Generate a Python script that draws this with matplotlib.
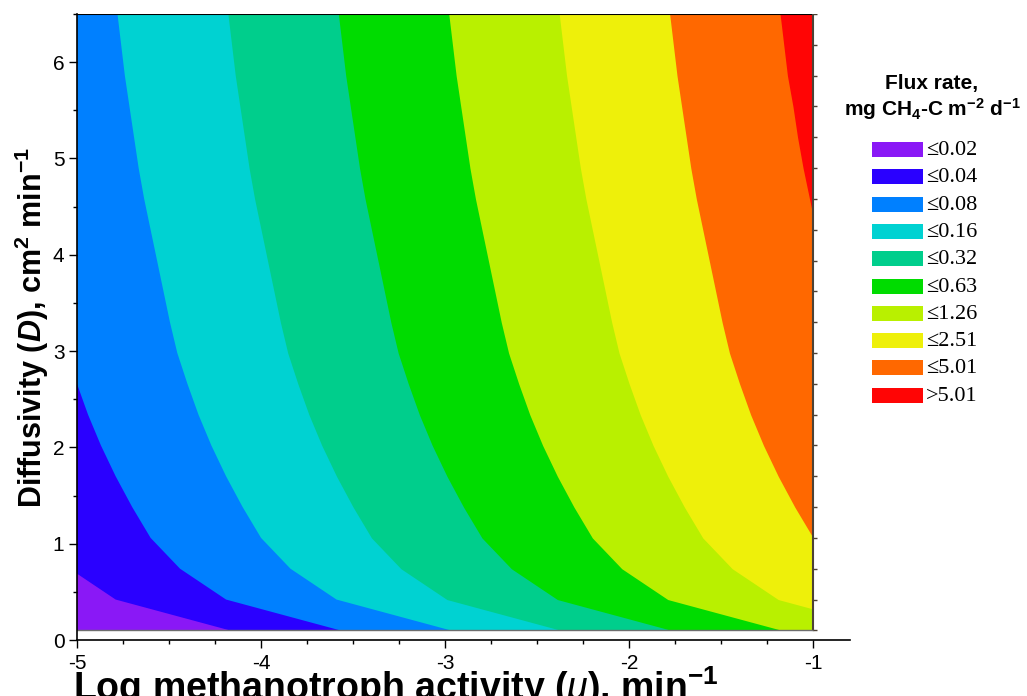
import numpy as np
import matplotlib.pyplot as plt
from matplotlib.patches import Rectangle
from matplotlib.ticker import FixedLocator

# diffusivity grid (cm2 min-1) where the contour boundaries were read
D = [0.10, 0.42, 0.74, 1.06, 1.38, 1.70, 2.02, 2.34, 2.66, 2.98, 3.30,
     3.62, 3.94, 4.26, 4.58, 4.90, 5.22, 5.54, 5.86, 6.18, 6.50]

# log mu position of each band boundary at the D values above
b002 = [-4.17, -4.79, -5.04, -5.20, -5.30, -5.39, -5.47, -5.54, -5.60, -5.655, -5.695,
        -5.73, -5.765, -5.80, -5.835, -5.865, -5.89, -5.915, -5.94, -5.96, -5.98]
b004 = [-3.57, -4.19, -4.44, -4.60, -4.70, -4.79, -4.87, -4.94, -5.00, -5.055, -5.095,
        -5.13, -5.165, -5.20, -5.235, -5.265, -5.29, -5.315, -5.34, -5.36, -5.38]
b008 = [-2.97, -3.59, -3.84, -4.00, -4.10, -4.19, -4.27, -4.34, -4.40, -4.455, -4.495,
        -4.53, -4.565, -4.60, -4.635, -4.665, -4.69, -4.715, -4.74, -4.76, -4.78]
b016 = [-2.37, -2.99, -3.24, -3.40, -3.50, -3.59, -3.67, -3.74, -3.80, -3.855, -3.895,
        -3.93, -3.965, -4.00, -4.035, -4.065, -4.09, -4.115, -4.14, -4.16, -4.18]
b032 = [-1.77, -2.39, -2.64, -2.80, -2.90, -2.99, -3.07, -3.14, -3.20, -3.255, -3.295,
        -3.33, -3.365, -3.40, -3.435, -3.465, -3.49, -3.515, -3.54, -3.56, -3.58]
b063 = [-1.17, -1.79, -2.04, -2.20, -2.30, -2.39, -2.47, -2.54, -2.60, -2.655, -2.695,
        -2.73, -2.765, -2.80, -2.835, -2.865, -2.89, -2.915, -2.94, -2.96, -2.98]
b126 = [-0.57, -1.19, -1.44, -1.60, -1.70, -1.79, -1.87, -1.94, -2.00, -2.055, -2.095,
        -2.13, -2.165, -2.20, -2.235, -2.265, -2.29, -2.315, -2.34, -2.36, -2.38]
b251 = [0.03, -0.59, -0.84, -1.00, -1.10, -1.19, -1.27, -1.34, -1.40, -1.455, -1.495,
        -1.53, -1.565, -1.60, -1.635, -1.665, -1.69, -1.715, -1.74, -1.76, -1.78]
b501 = [0.63, 0.01, -0.24, -0.40, -0.50, -0.59, -0.67, -0.74, -0.80, -0.855, -0.895,
        -0.93, -0.96, -0.985, -1.02, -1.055, -1.085, -1.11, -1.14, -1.16, -1.18]

labels = ['\u22640.02', '\u22640.04', '\u22640.08', '\u22640.16', '\u22640.32',
          '\u22640.63', '\u22641.26', '\u22642.51', '\u22645.01', '>5.01']
colors = ['#8a18f6', '#2a00ff', '#0080ff', '#00d2d2', '#00ce8c',
          '#00dc00', '#b9f000', '#eef00a', '#ff6800', '#ff0505']

mu_min, mu_max = -5, -1

plt.rcParams['font.family'] = 'Liberation Sans'
plt.rcParams['axes.unicode_minus'] = False
plt.rcParams['mathtext.fontset'] = 'custom'
plt.rcParams['mathtext.rm'] = 'Liberation Sans'
plt.rcParams['mathtext.it'] = 'Liberation Sans:italic'
plt.rcParams['mathtext.bf'] = 'Liberation Sans:bold'
plt.rcParams['mathtext.bfit'] = 'Liberation Sans:italic:bold'

W, H = 1027, 696
fx = lambda x: x / W
fy = lambda y: 1 - y / H

fig = plt.figure(figsize=(W / 100, H / 100), dpi=100)
ax = fig.add_axes([fx(77), fy(640), (850 - 77) / W, (640 - 14) / H])

Darr = np.array(D)
clip = Rectangle((mu_min, D[0]), mu_max - mu_min, D[-1] - D[0], transform=ax.transData)

# bands: paint each from its left boundary to the far right, left to right
f = ax.fill_betweenx(Darr, mu_min, mu_max, color=colors[0], lw=0)
f.set_clip_path(clip)
for b, c in zip([b002, b004, b008, b016, b032, b063, b126, b251, b501], colors[1:]):
    f = ax.fill_betweenx(Darr, b, 1.0, color=c, lw=0)
    f.set_clip_path(clip)

# data frame
ax.plot([mu_min, mu_max], [D[-1], D[-1]], color='black', lw=1.5, solid_capstyle='butt')
ax.plot([mu_max, mu_max], [D[0], D[-1]], color='#4d4236', lw=1.5)
ax.plot([mu_min, mu_max], [D[0], D[0]], color='#6e6e6e', lw=1)
ax.plot(np.full(len(D), mu_max), Darr, ls='none', marker=1, ms=3, mew=1, color='#4d4236')

ax.set_xlim(-5, -0.8)
ax.set_ylim(0, 6.5)
ax.spines['top'].set_visible(False)
ax.spines['right'].set_visible(False)
for s in ['left', 'bottom']:
    ax.spines[s].set_linewidth(1.2)

ax.set_xticks([-5, -4, -3, -2, -1])
ax.xaxis.set_minor_locator(FixedLocator(np.arange(-5, -0.99, 0.25)))
ax.set_yticks([0, 1, 2, 3, 4, 5, 6])
ax.yaxis.set_minor_locator(FixedLocator(np.arange(0, 6.51, 0.5)))
ax.tick_params(which='major', direction='out', length=6, width=1, labelsize=15, pad=3)
ax.tick_params(axis='x', which='major', pad=4)
ax.tick_params(which='minor', direction='out', length=3, width=1)

fig.text(fx(32), fy(327), r'Diffusivity ($\mathbfit{D}$), cm$^{\mathbf{2}}$ min$^{\mathbf{-1}}$',
         rotation=90, ha='center', va='center', fontsize=22, fontweight='bold')
fig.text(fx(73), fy(700), r'Log methanotroph activity ($\mathit{\mu}$), min$^{\mathbf{-1}}$',
         ha='left', va='baseline', fontsize=27, fontweight='bold')

# legend
fig.text(fx(932), fy(84), 'Flux rate,', ha='center', va='center', fontsize=15, fontweight='bold')
fig.text(fx(932), fy(109), r'mg CH$_{\mathbf{4}}$-C m$^{\mathbf{-2}}$ d$^{\mathbf{-1}}$',
         ha='center', va='center', fontsize=15, fontweight='bold')
for i, (lab, c) in enumerate(zip(labels, colors)):
    yc = 149.5 + 27.3 * i
    fig.add_artist(Rectangle((fx(872), fy(yc + 7.5)), 51 / W, 15 / H,
                             transform=fig.transFigure, color=c, lw=0))
    fig.text(fx(926), fy(yc + 1), lab, ha='left', va='center', fontsize=16,
             family='Liberation Serif')

plt.savefig('out.png', dpi=100)
